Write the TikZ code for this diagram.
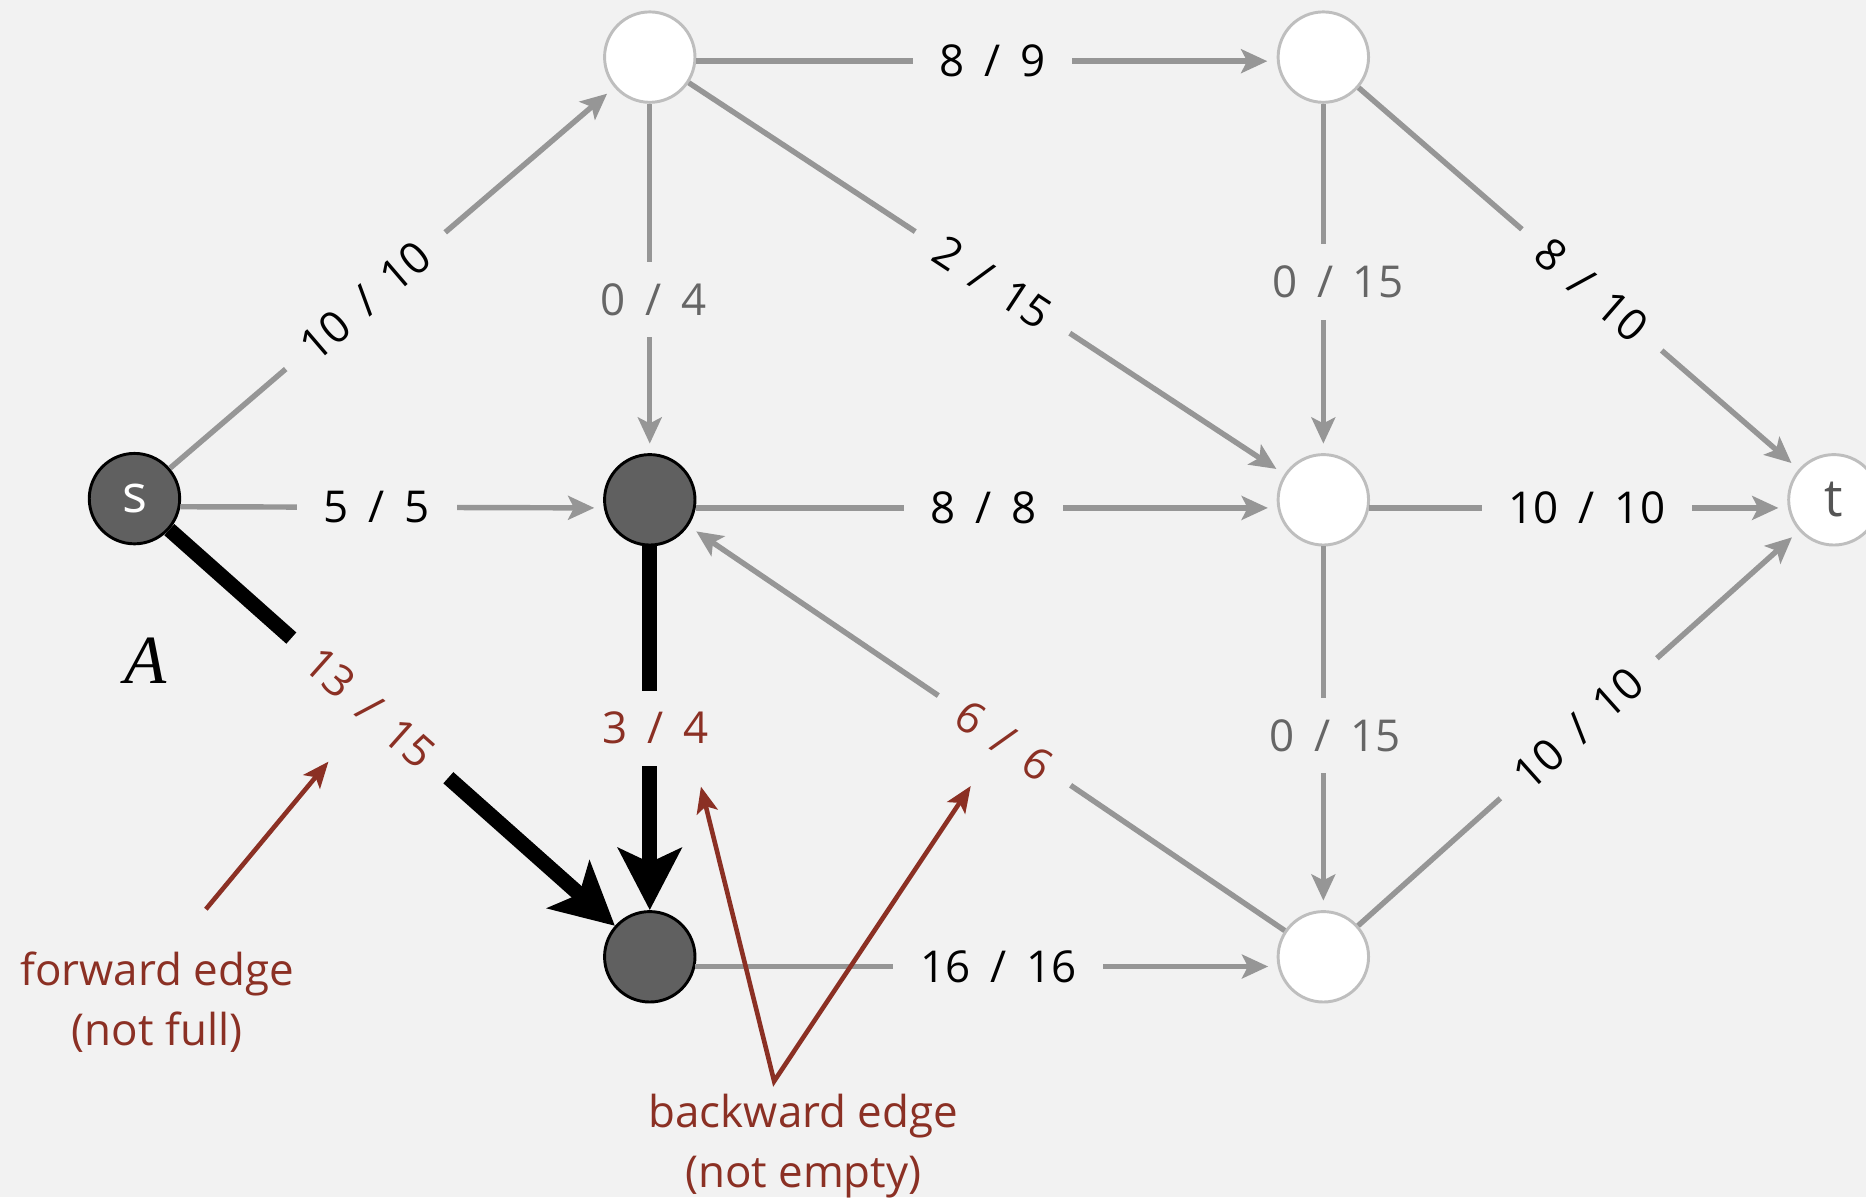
\documentclass[tikz,border=0pt]{standalone}
\usepackage{fontspec}
\setmainfont{Open Sans}
\newfontfamily\tms{Liberation Serif}
\usetikzlibrary{arrows.meta}
\definecolor{bg}{RGB}{242,242,242}
\definecolor{egray}{RGB}{150,150,150}
\definecolor{lgray}{RGB}{102,102,102}
\definecolor{tgray}{RGB}{85,85,85}
\definecolor{nred}{RGB}{139,48,36}
\definecolor{ndark}{RGB}{96,96,96}
\definecolor{nbord}{RGB}{190,190,190}
\newcommand\flowfrac[2]{#1\hspace{9.5pt}/\hspace{9.5pt}#2}
\begin{document}
\begin{tikzpicture}[x=0.02cm,y=-0.02cm,
  vtx/.style={circle, minimum size=1.52cm, inner sep=0pt, line width=1.4pt, font=\fontsize{25}{28}\selectfont},
  full/.style={vtx, fill=ndark, draw=black, text=white},
  empty/.style={vtx, fill=white, draw=nbord, text=tgray},
  flow/.style={draw=egray, line width=2.6pt, -{Stealth[length=0.44cm,width=0.4cm,inset=0.1cm]}, shorten >=0.16cm},
  aug/.style={draw=black, line width=7.2pt, -{Stealth[length=1.04cm,width=1.06cm,inset=0.24cm]}},
  lab/.style={fill=bg, font=\fontsize{21}{25}\selectfont, inner xsep=0.45cm, inner ysep=0.1cm},
  vlab/.style={lab, inner xsep=0.1cm, inner ysep=0.36cm},
  note/.style={draw=nred, line width=2.2pt, line join=miter, >={Stealth[length=0.44cm,width=0.36cm,inset=0.1cm]}},
  notetext/.style={text=nred, font=\fontsize{21}{28.5}\selectfont, align=center}
]
\clip (0,0) rectangle (1568,1006);
\fill[bg] (0,0) rectangle (1568,1006);

% vertices
\node[full]  (s)  at (113,419)  {s};
\node[empty] (v1) at (546,48)   {};
\node[empty] (v2) at (1112,48)  {};
\node[full]  (m)  at (546,420)  {};
\node[empty] (c)  at (1112,420) {};
\node[empty] (t)  at (1541,420) {t};
\node[full]  (b)  at (546,804)  {};
\node[empty] (d)  at (1112,804) {};

% gray edges
\draw[flow] (s) -- node[lab, sloped, pos=0.44] {\flowfrac{10}{10}} (v1);
\draw[flow] (s.-10) -- node[lab, pos=0.464] {\flowfrac{5}{5}} (m.190.6);
\draw[flow] (v1) -- node[vlab, text=lgray, pos=0.56, xshift=0.07cm] {\flowfrac{0}{4}} (m);
\draw[flow] (v1.-5.3) -- node[lab, pos=0.51] {\flowfrac{8}{9}} (v2.185.3);
\draw[flow] (v1) -- node[lab, sloped, pos=0.51] {\flowfrac{2}{15}} (c);
\draw[flow] (v2) -- node[vlab, text=lgray, pos=0.51, xshift=0.24cm] {\flowfrac{0}{15}} (c);
\draw[flow] (v2) -- node[lab, sloped, pos=0.53] {\flowfrac{8}{10}} (t);
\draw[flow] (m.-10.6) -- node[lab, pos=0.495] {\flowfrac{8}{8}} (c.190.6);
\draw[flow] (c.-10.6) -- node[lab, pos=0.52] {\flowfrac{10}{10}} (t.190.6);
\draw[flow] (d) -- node[lab, sloped, text=nred, pos=0.47] {\flowfrac{6}{6}} (m);
\draw[flow] (c) -- node[vlab, text=lgray, pos=0.52, xshift=0.2cm] {\flowfrac{0}{15}} (d);
\draw[flow] (d) -- node[lab, sloped, pos=0.5] {\flowfrac{10}{10}} (t);
\draw[flow] (b.-12.2) -- node[lab, pos=0.52] {\flowfrac{16}{16}} (d.192.2);

% augmenting path edges
\draw[aug] (s) -- node[lab, sloped, text=nred, pos=0.45] {\flowfrac{13}{15}} (b);
\draw[aug] (m) -- node[vlab, text=nred, pos=0.5, xshift=0.1cm] {\flowfrac{3}{4}} (b);

% annotations
\node[font=\tms\itshape\fontsize{33}{36}\selectfont] (A) at (122,555) {A};

\node[notetext] (fw) at (132,842) {forward edge\\(not full)};
\coordinate (fwtail) at (173,764);
\coordinate (fwtip) at (276,640);
\draw[note, ->] (fwtail) -- (fwtip);

\node[notetext] (bw) at (675,963) {backward edge\\(not empty)};
\coordinate (bwapex) at (650.5,908.5);
\coordinate (bwl) at (589,661);
\coordinate (bwr) at (815.7,660.5);
\draw[note, <->] (bwl) -- (bwapex) -- (bwr);
\end{tikzpicture}
\end{document}
